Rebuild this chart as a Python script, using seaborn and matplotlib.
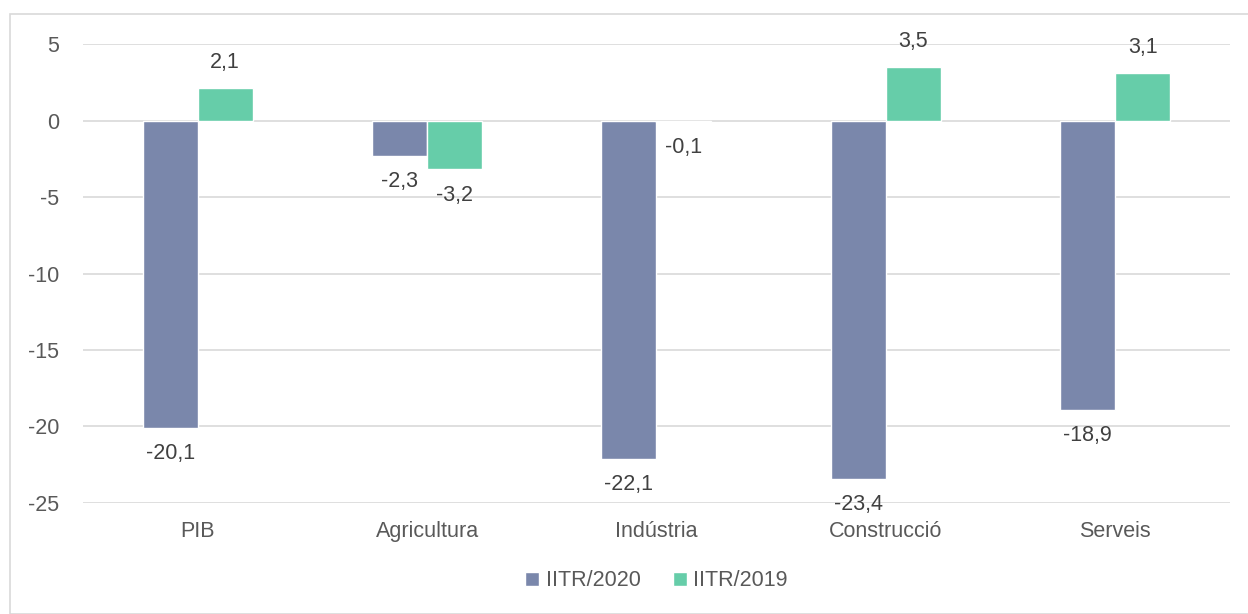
import pandas as pd
import seaborn as sns
import matplotlib.pyplot as plt
from matplotlib.patches import Rectangle

categories = ['PIB', 'Agricultura', 'Indústria', 'Construcció', 'Serveis']
iitr_2020 = [-20.1, -2.3, -22.1, -23.4, -18.9]
iitr_2019 = [2.1, -3.2, -0.1, 3.5, 3.1]
series = ['IITR/2020', 'IITR/2019']

df = pd.DataFrame({
    'sector': categories * 2,
    'valor': iitr_2020 + iitr_2019,
    'serie': [series[0]] * 5 + [series[1]] * 5,
})

sns.set_style('white')
plt.rcParams['font.family'] = ['Liberation Sans', 'DejaVu Sans']
plt.rcParams['axes.unicode_minus'] = False
text_col = '#595959'

fig = plt.figure(figsize=(12.48, 6.14), dpi=100)
ax = fig.add_axes([0.0665, 0.1808, 0.919, 0.7475])

sns.barplot(data=df, x='sector', y='valor', hue='serie', order=categories,
            hue_order=series, palette=['#7A87AB', '#66CDA9'], width=0.48,
            saturation=1, ax=ax)

for c in ax.containers:
    ax.bar_label(c, labels=[f'{v:.1f}'.replace('.', ',') for v in c.datavalues],
                 padding=11, fontsize=15.5, color='#404040')

ax.set_ylim(-25, 5)
ax.set_yticks(range(-25, 6, 5))
ax.set_xlim(-0.5, 4.5)
ax.yaxis.grid(True, color='#D9D9D9', linewidth=1.2)
ax.set_axisbelow(True)
for s in ax.spines.values():
    s.set_visible(False)
ax.tick_params(axis='both', length=0, labelsize=15.5, labelcolor=text_col)
ax.tick_params(axis='x', pad=13)
ax.tick_params(axis='y', pad=17)
ax.set_xlabel('')
ax.set_ylabel('')

ax.legend(loc='lower center', bbox_to_anchor=(0.5, -0.235), ncol=2, frameon=False,
          fontsize=15.5, labelcolor=text_col, handlelength=0.65, handleheight=0.65,
          handletextpad=0.3, columnspacing=1.5)

fig.patches.append(Rectangle((10 / 1248, 0), 1.0, 1 - 14 / 614, transform=fig.transFigure,
                             fill=False, edgecolor='#D9D9D9', linewidth=1.2))

fig.savefig('out.png', dpi=100)
